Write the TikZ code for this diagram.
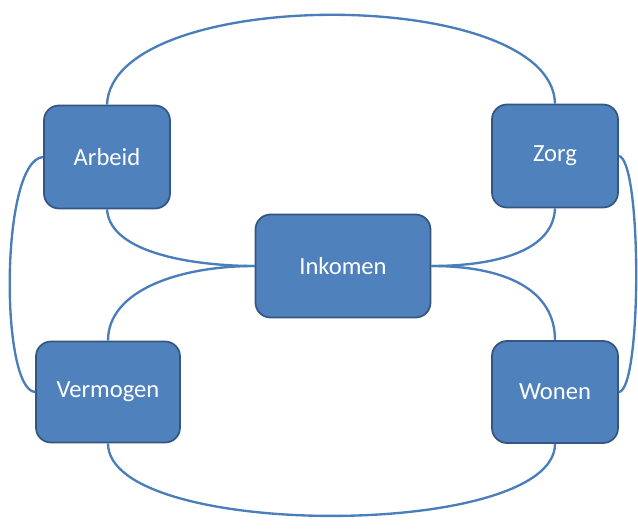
\documentclass[tikz,border=0pt]{standalone}
\usepackage{fontspec}
\setmainfont{Carlito}
\usetikzlibrary{positioning}
\definecolor{blokblauw}{RGB}{79,129,189}
\definecolor{randblauw}{RGB}{52,86,128}
\definecolor{lijnblauw}{RGB}{74,126,187}

\begin{document}
\begin{tikzpicture}[x=0.03cm,y=-0.03cm,
  blok/.style={draw=randblauw,fill=blokblauw,line width=1.5pt,rounded corners=0.45cm,
    minimum width=3.78cm,minimum height=3.09cm,text=white,font=\fontsize{21}{25}\selectfont},
  lijn/.style={draw=lijnblauw,line width=2pt}]
\useasboundingbox (0,0) rectangle (638,530);
\node[blok] (arbeid) at (107,157) {Arbeid};
\node[blok] (zorg) at (555,156) {Zorg};
\node[blok,minimum width=5.25cm] (inkomen) at (343,266) {Inkomen};
\node[blok,minimum width=4.32cm,minimum height=3.03cm] (vermogen) at (108,392) {Vermogen};
\node[blok,minimum height=3.06cm] (wonen) at (555,392) {Wonen};
\draw[lijn] (arbeid.north) .. controls (112,-15) and (552,-15) .. (zorg.north);
\draw[lijn] (vermogen.south) .. controls (108,540) and (555,540) .. (wonen.south);
\draw[lijn] (arbeid.west) .. controls (0,160) and (0,390) .. (vermogen.west);
\draw[lijn] (zorg.east) .. controls (642,160) and (642,390) .. (wonen.east);
\draw[lijn] (arbeid.south) .. controls (110,255) and (200,266) .. (inkomen.west);
\draw[lijn] (zorg.south) .. controls (553,255) and (486,266) .. (inkomen.east);
\draw[lijn] (inkomen.west) .. controls (180,266) and (108,290) .. (vermogen.north);
\draw[lijn] (inkomen.east) .. controls (506,266) and (555,290) .. (wonen.north);
\end{tikzpicture}
\end{document}
